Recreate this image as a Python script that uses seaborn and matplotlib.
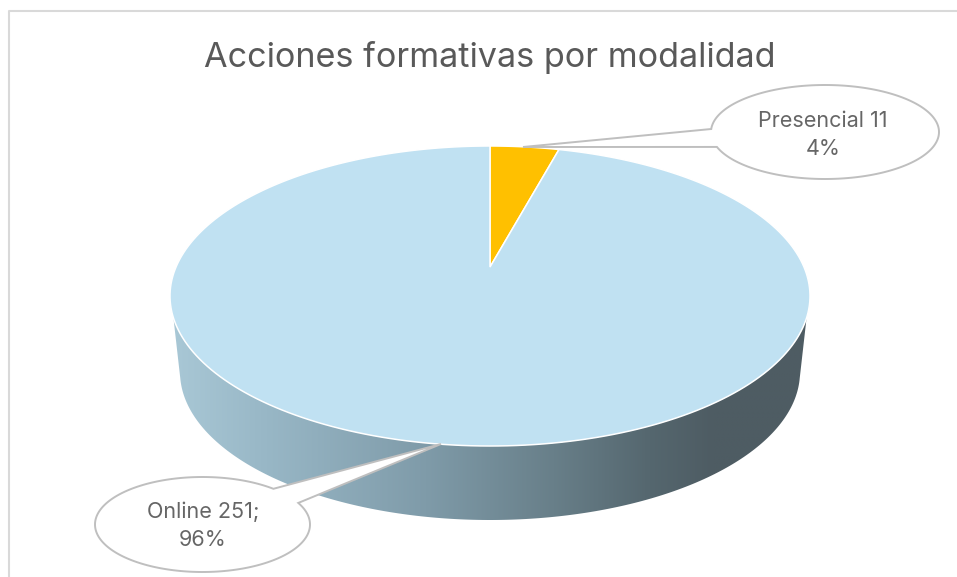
import numpy as np
import matplotlib
matplotlib.use("Agg")
import matplotlib.pyplot as plt
import seaborn as sns
from matplotlib.colors import LinearSegmentedColormap
from matplotlib.patches import Polygon
from matplotlib.transforms import Affine2D

# data
categories = ["Presencial", "Online"]
values = [11, 251]
separators = ["", ";"]
colors = ["#FFC000", "#C0E1F2"]
title = "Acciones formativas por modalidad"

sns.set_theme(style="white")
plt.rcParams["font.family"] = ["Inter", "DejaVu Sans"]

fig = plt.figure(figsize=(9.57, 5.77), dpi=100)
ax = fig.add_axes([0, 0, 1, 1])

# top face of the pie, perspective tilted so the centre sits above the ellipse middle
cx, cy, rx, ry = 490, 296, 320, 150
tilt = 0.193


def project(pts):
    x, y = pts[:, 0], pts[:, 1]
    w = 1 + tilt * y
    px = np.sqrt(1 - tilt ** 2) * x / w
    py = (y + tilt) / w
    return np.column_stack([cx + rx * px, cy - ry * py])


wedges, _ = ax.pie(values, colors=colors, startangle=90, counterclock=False, radius=1)
faces = []
for w in wedges:
    # flatten the curves before projecting
    big = w.get_path().transformed(Affine2D().scale(2000))
    faces.append(project(big.to_polygons(closed_only=False)[0] / 2000))
    w.remove()


def ell(x0, y0, a, b, t):
    t = np.radians(t)
    return np.column_stack([x0 + a * np.cos(t), y0 + b * np.sin(t)])


# side of the disc, with the horizontal shading
side = np.vstack([
    ell(490, 372, 310, 148, np.linspace(2.3, 177.7, 200)),
    ell(cx, cy, rx, ry, np.linspace(171.6, 8.4, 200)),
])
shade = LinearSegmentedColormap.from_list("side", [
    (0.0, "#A9C8D6"), (0.15, "#98B7C6"), (0.4, "#7F9BA9"),
    (0.6, "#687F89"), (0.75, "#55676F"), (0.85, "#4E5C63"), (1.0, "#4E5C63"),
])
img = ax.imshow(np.linspace(0, 1, 256)[None, :], cmap=shade, aspect="auto",
                extent=(170, 810, 520, 296), zorder=1)
clip = Polygon(side, closed=True, transform=ax.transData, fc="none", ec="none")
ax.add_patch(clip)
img.set_clip_path(clip)

for face, col in zip(faces, colors):
    ax.add_patch(Polygon(face, closed=True, fc=col, ec="white", lw=1.1, zorder=2))


def callout(x0, y0, a, b, start, tip, end):
    # ellipse outline running from the tail end round to the tail start, plus the tip
    t0 = np.degrees(np.arctan2((end[1] - y0) / b, (end[0] - x0) / a))
    t1 = np.degrees(np.arctan2((start[1] - y0) / b, (start[0] - x0) / a))
    if t1 < t0:
        t1 += 360
    outline = np.vstack([ell(x0, y0, a, b, np.linspace(t0, t1, 200)), [tip]])
    ax.add_patch(Polygon(outline, closed=True, fc="white", ec="#BFBFBF", lw=1.4, zorder=3))


# tails go to the right one anticlockwise on screen, y is flipped
callout(825, 132, 114, 47, (716.5, 147), (523, 147), (711, 129))
callout(202.5, 524.5, 107.5, 47.5, (273, 489), (441, 444), (298, 503))

total = sum(values)
label_pos = [(823, 135), (203, 525.5)]
for name, val, sep, (lx, ly) in zip(categories, values, separators, label_pos):
    ax.text(lx, ly, f"{name} {val}{sep}\n{round(100 * val / total)}%", ha="center", va="center",
            fontsize=15.5, color="#666666", linespacing=1.5, zorder=4)

ax.text(490, 57, title, ha="center", va="center", fontsize=24.6, color="#595959", zorder=4)

# chart border, only top and left are visible in the crop
ax.plot([9, 9, 957], [577, 11, 11], color="#D9D9D9", lw=1.5, zorder=0)

ax.set_xlim(0, 957)
ax.set_ylim(577, 0)
ax.set_aspect("auto")
ax.axis("off")

fig.savefig("out.png", dpi=100, facecolor="white")
